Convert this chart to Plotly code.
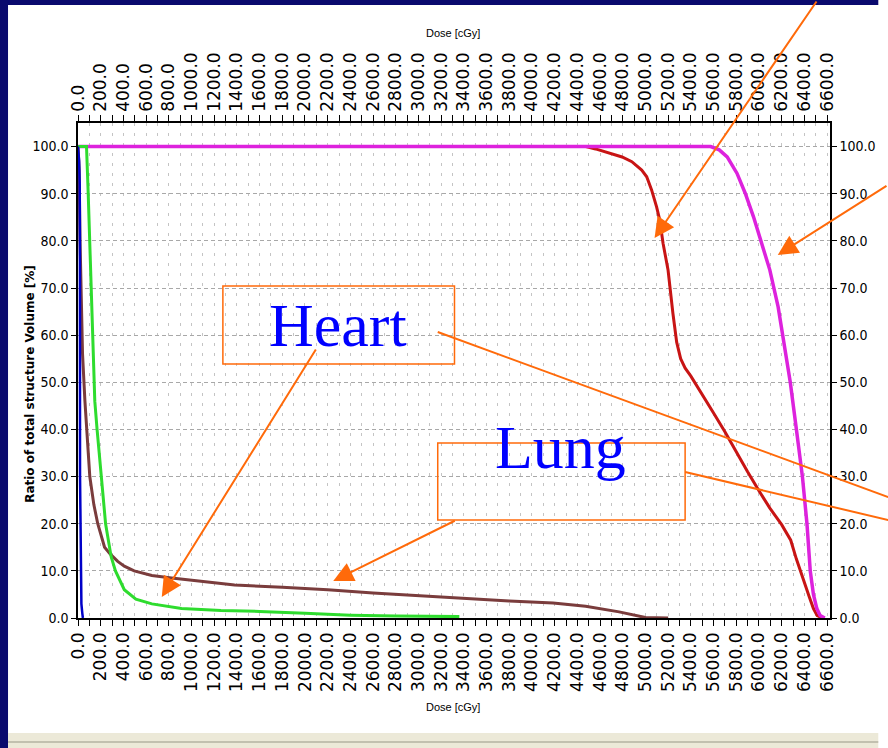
import plotly.graph_objects as go

# ---------------- data ----------------
dose_ptv_red = [0, 4475, 4560, 4650, 4794, 4880, 4967, 5011, 5054, 5098, 5126, 5155, 5199, 5242,
                5275, 5310, 5350, 5400, 5500, 5600, 5700, 5800, 5900, 6000, 6096, 6200, 6280,
                6330, 6371, 6410, 6443, 6480, 6513, 6560]
vol_ptv_red = [100, 100, 99.5, 98.9, 97.8, 96.8, 95.0, 93.6, 90.8, 87.2, 84.4, 79.5, 73.8, 64.6,
               58.5, 55.0, 53.0, 51.3, 47.5, 43.5, 39.5, 35.2, 31.0, 27.0, 23.3, 19.8, 16.5,
               12.5, 9.5, 6.5, 4.5, 2.0, 0.5, 0.0]

dose_ctv_mag = [0, 5575, 5650, 5720, 5807, 5879, 5952, 6024, 6096, 6169, 6210, 6276, 6330, 6383,
                6423, 6452, 6480, 6510, 6540, 6580]
vol_ctv_mag = [100, 100, 99.3, 97.8, 94.3, 90.1, 85.1, 79.5, 73.8, 66.0, 60.0, 50.0, 40.0, 30.0,
               20.0, 10.0, 5.0, 2.0, 0.5, 0.0]

dose_lung = [0, 10, 18, 25, 40, 61, 75, 104, 140, 174, 234, 287, 350, 408, 495, 651, 825, 1000,
             1170, 1380, 1800, 2200, 2600, 3000, 3400, 3800, 4186, 4473, 4768, 4940, 5000, 5200]
vol_lung = [100, 95, 80, 70, 56, 46, 40, 30, 24, 20, 15, 13.5, 12, 11, 10, 9, 8.5, 8,
            7.5, 7, 6.5, 6, 5.3, 4.7, 4.2, 3.6, 3.2, 2.5, 1.3, 0.3, 0.1, 0.0]

dose_heart = [0, 75, 90, 118, 148, 168, 205, 243, 292, 330, 408, 510, 651, 912, 1260, 1600, 2000,
              2400, 2800, 3360]
vol_heart = [100, 100, 90, 70, 46, 40, 30, 20, 13, 10, 6, 4, 3, 2, 1.6, 1.4, 1.0,
             0.6, 0.4, 0.3]

dose_cord = [0, 10, 15, 17, 18, 22, 30, 38, 43]
vol_cord = [100, 97, 92, 80, 30, 10, 3, 1, 0]

x_tick_vals = list(range(0, 6601, 200))
y_tick_vals = list(range(0, 101, 10))
x_range = [0, 6626]
y_range = [0, 105]

# ---------------- colours ----------------
C_RED = "#C81414"
C_MAG = "#DD22DD"
C_LUNG = "#7A3C3C"
C_HEART = "#2EDC2E"
C_CORD = "#0000C8"
C_ORANGE = "#FF6A0A"
C_NAVY = "#0A0A6E"

# plot area in pixels
L, R, T, B = 78, 841, 123, 618
W, H = 888, 748


def PX(p):
    return (p - L) / (R - L)


def PY(p):
    return (B - p) / (B - T)


fig = go.Figure()
fig.add_trace(go.Scatter(x=dose_ptv_red, y=vol_ptv_red, mode="lines",
                         line=dict(color=C_RED, width=3), hoverinfo="skip"))
fig.add_trace(go.Scatter(x=dose_ctv_mag, y=vol_ctv_mag, mode="lines",
                         line=dict(color=C_MAG, width=3.5), hoverinfo="skip"))
fig.add_trace(go.Scatter(x=dose_lung, y=vol_lung, mode="lines",
                         line=dict(color=C_LUNG, width=3), hoverinfo="skip"))
fig.add_trace(go.Scatter(x=dose_heart, y=vol_heart, mode="lines",
                         line=dict(color=C_HEART, width=3), hoverinfo="skip"))
fig.add_trace(go.Scatter(x=dose_cord, y=vol_cord, mode="lines", xaxis="x2", yaxis="y2",
                         line=dict(color=C_CORD, width=2.5), hoverinfo="skip"))

tick_font_x = dict(family="DejaVu Sans, Liberation Sans, Arial", size=17, color="black")
tick_font_y = dict(family="DejaVu Sans Condensed, Liberation Sans Narrow, Arial Narrow", size=14,
                   color="black")

xcommon = dict(range=x_range, tickmode="array", tickvals=x_tick_vals, tickformat=".1f",
               ticks="outside", ticklen=6, tickwidth=1, tickcolor="black", tickangle=-90,
               showline=True, linecolor="black", linewidth=1.5, zeroline=False,
               tickfont=tick_font_x, fixedrange=True)
fig.update_layout(
    width=W, height=H,
    margin=dict(l=L, r=W - R, t=T, b=H - B, pad=0),
    paper_bgcolor="white", plot_bgcolor="white",
    showlegend=False, hovermode=False,
    xaxis=dict(**xcommon, side="bottom", showgrid=True, gridcolor="#C4C4C4", griddash="3px,7px",
               gridwidth=1,
               minor=dict(dtick=100, ticks="outside", ticklen=6, tickcolor="black",
                          showgrid=True, gridcolor="#C4C4C4", griddash="3px,7px", gridwidth=1)),
    xaxis2=dict(**xcommon, side="top", overlaying="x", showgrid=False,
                minor=dict(dtick=100, ticks="outside", ticklen=6, tickcolor="black", showgrid=False)),
    yaxis=dict(range=y_range, tickmode="array", tickvals=y_tick_vals, tickformat=".1f",
               ticks="outside", ticklen=5, tickcolor="black", showline=True, linecolor="black",
               linewidth=1.5, zeroline=False, showgrid=True, gridcolor="#A8A8A8",
               griddash="4px,3px", tickfont=tick_font_y, fixedrange=True),
    yaxis2=dict(range=y_range, tickmode="array", tickvals=y_tick_vals, tickformat=".1f",
                ticks="outside", ticklen=5, tickcolor="black", showline=True, linecolor="black",
                linewidth=1.5, zeroline=False, showgrid=False, side="right", overlaying="y",
                tickfont=tick_font_y, fixedrange=True),
)

shapes = []
# navy window frame (top and left) and bottom status bar
shapes.append(dict(type="rect", xref="paper", yref="paper", x0=PX(-2), x1=PX(W + 2), y0=PY(5),
                   y1=PY(-2), fillcolor=C_NAVY, line=dict(width=0), layer="above"))
shapes.append(dict(type="rect", xref="paper", yref="paper", x0=PX(-2), x1=PX(7), y0=PY(H + 2),
                   y1=PY(-2), fillcolor=C_NAVY, line=dict(width=0), layer="above"))
shapes.append(dict(type="rect", xref="paper", yref="paper", x0=PX(7), x1=PX(W + 2), y0=PY(H + 2),
                   y1=PY(733), fillcolor="#ECE9D8", line=dict(width=0), layer="above"))
shapes.append(dict(type="line", xref="paper", yref="paper", x0=PX(7), x1=PX(W + 2), y0=PY(742),
                   y1=PY(742), line=dict(color="#B5B2A2", width=1.5), layer="above"))
# annotation boxes
shapes.append(dict(type="rect", xref="paper", yref="paper", x0=PX(225), x1=PX(460), y0=PY(364),
                   y1=PY(286), line=dict(color=C_ORANGE, width=1.5), layer="above"))
shapes.append(dict(type="rect", xref="paper", yref="paper", x0=PX(443), x1=PX(694), y0=PY(520),
                   y1=PY(443), line=dict(color=C_ORANGE, width=1.5), layer="above"))
# pointer lines leaving the boxes to the right
shapes.append(dict(type="line", xref="paper", yref="paper", x0=PX(443), y0=PY(332), x1=PX(900),
                   y1=PY(497), line=dict(color=C_ORANGE, width=2), layer="above"))
shapes.append(dict(type="line", xref="paper", yref="paper", x0=PX(694), y0=PY(472), x1=PX(900),
                   y1=PY(520), line=dict(color=C_ORANGE, width=2), layer="above"))
fig.update_layout(shapes=shapes)

ann = []
# axis titles
ann.append(dict(text="Dose [cGy]", xref="paper", yref="paper", x=PX(458), y=PY(25),
                showarrow=False, font=dict(family="Liberation Sans, Arial", size=11, color="black")))
ann.append(dict(text="Dose [cGy]", xref="paper", yref="paper", x=PX(458), y=PY(715),
                showarrow=False, font=dict(family="Liberation Sans, Arial", size=11, color="black")))
ann.append(dict(text="Ratio of total structure Volume [%]", xref="paper", yref="paper",
                x=PX(20), y=PY(384), textangle=-90, showarrow=False,
                font=dict(family="DejaVu Sans, Verdana", size=12, color="black", weight="bold")))
# box labels
ann.append(dict(text="Heart", xref="paper", yref="paper", x=PX(342), y=PY(325), showarrow=False,
                font=dict(family="Liberation Serif, Times New Roman, serif", size=62, color="#0000FF")))
ann.append(dict(text="Lung", xref="paper", yref="paper", x=PX(568), y=PY(483), showarrow=False,
                font=dict(family="Liberation Serif, Times New Roman, serif", size=62, color="#0000FF")))


def arrow(tip, tail):
    return dict(text="", xref="paper", yref="paper", x=PX(tip[0]), y=PY(tip[1]),
                ax=tail[0] - tip[0], ay=tail[1] - tip[1], showarrow=True, arrowhead=2,
                arrowsize=2.0, arrowwidth=2, arrowcolor=C_ORANGE, standoff=0, startstandoff=0)


ann.append(arrow((163, 597), (318, 348)))   # Heart
ann.append(arrow((337, 581), (460, 520)))   # Lung
ann.append(arrow((663, 238), (826, -20)))   # red curve
ann.append(arrow((788, 255), (900, 185)))   # magenta curve
fig.update_layout(annotations=ann)

fig.write_html("out.html", config={"displayModeBar": False},
               post_script="document.body.style.margin='0';"
                           "document.body.style.overflow='hidden';")
